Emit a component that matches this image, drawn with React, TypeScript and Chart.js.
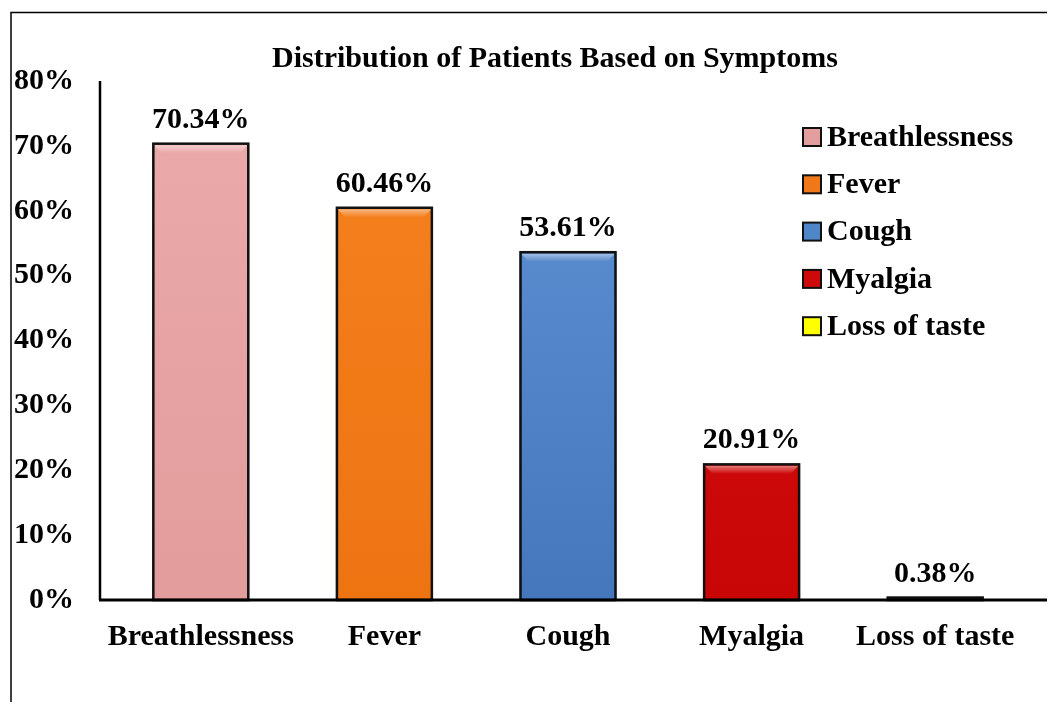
import React, { useEffect, useRef } from "react";
import { Chart, registerables } from "chart.js";

Chart.register(...registerables);

const categories = ["Breathlessness", "Fever", "Cough", "Myalgia", "Loss of taste"];
const values = [70.34, 60.46, 53.61, 20.91, 0.38];
const barColorsTop = ["#EBAAAA", "#F5821E", "#5F94D6", "#D81010", "#FFFF40"];
const barColorsBottom = ["#E29C9C", "#EE7412", "#4577BC", "#C80606", "#F2F200"];
const legendColors = ["#E39E9E", "#F07818", "#4F86C8", "#CC0A0A", "#FFFF00"];
const yMin = 0;
const yMax = 80;
const yStep = 10;
const chartTitle = "Distribution of Patients Based on Symptoms";

const FONT = "'Liberation Serif', 'Times New Roman', serif";
const AXIS_X = 92;

const decorPlugin = {
  id: "decor",
  beforeDraw(chart: any) {
    const { ctx, width, height } = chart;
    ctx.save();
    ctx.fillStyle = "#fff";
    ctx.fillRect(0, 0, width, height);
    ctx.strokeStyle = "#000";
    ctx.lineWidth = 1.5;
    ctx.beginPath();
    ctx.moveTo(3, height + 5);
    ctx.lineTo(3, 4.5);
    ctx.lineTo(width + 5, 4.5);
    ctx.stroke();
    ctx.restore();
  },
  afterDatasetsDraw(chart: any) {
    const { ctx, chartArea, width } = chart;
    const meta = chart.getDatasetMeta(0);
    ctx.save();
    meta.data.forEach((el: any) => {
      const w = el.width;
      const h = chartArea.bottom - el.y;
      const x0 = el.x - w / 2;
      const x1 = el.x + w / 2;
      // bevel highlight at top of bars
      if (h > 12) {
        const y0 = el.y + 1.5;
        const g = ctx.createLinearGradient(0, y0, 0, y0 + 8);
        g.addColorStop(0, "rgba(255,255,255,0.45)");
        g.addColorStop(1, "rgba(255,255,255,0)");
        ctx.fillStyle = g;
        ctx.beginPath();
        ctx.moveTo(x0 + 1.5, y0);
        ctx.lineTo(x1 - 1.5, y0);
        ctx.lineTo(x1 - 9.5, y0 + 8);
        ctx.lineTo(x0 + 9.5, y0 + 8);
        ctx.closePath();
        ctx.fill();
      }
      // outline
      ctx.strokeStyle = "#111";
      ctx.lineWidth = 2.5;
      ctx.strokeRect(x0 + 1, el.y, w - 2, Math.max(h, 1.5));
    });
    // axes lines
    ctx.strokeStyle = "#000";
    ctx.lineWidth = 2.5;
    ctx.beginPath();
    ctx.moveTo(AXIS_X, chartArea.top);
    ctx.lineTo(AXIS_X, chartArea.bottom);
    ctx.stroke();
    ctx.lineWidth = 3;
    ctx.beginPath();
    ctx.moveTo(AXIS_X - 1, chartArea.bottom);
    ctx.lineTo(width, chartArea.bottom);
    ctx.stroke();
    // data labels
    ctx.fillStyle = "#000";
    ctx.font = `bold 30px ${FONT}`;
    ctx.textAlign = "center";
    ctx.textBaseline = "alphabetic";
    meta.data.forEach((el: any, i: number) => {
      ctx.fillText(values[i].toFixed(2) + "%", el.x, el.y - 16);
    });
    // title
    ctx.font = `bold 30px ${FONT}`;
    ctx.textBaseline = "middle";
    ctx.fillText(chartTitle, 547, 51);
    // legend
    ctx.font = `bold 30px ${FONT}`;
    ctx.textAlign = "left";
    categories.forEach((c, i) => {
      const cy = 129 + i * 47.3;
      ctx.fillStyle = legendColors[i];
      ctx.fillRect(795, cy - 9, 18, 18);
      ctx.strokeStyle = "#111";
      ctx.lineWidth = 2;
      ctx.strokeRect(795, cy - 9, 18, 18);
      ctx.fillStyle = "#000";
      ctx.fillText(c, 819, cy + 1);
    });
    ctx.restore();
  },
};

export default function App() {
  const ref = useRef<HTMLCanvasElement>(null);
  useEffect(() => {
    if (!ref.current) return;
    const chart = new Chart(ref.current, {
      type: "bar",
      data: {
        labels: categories,
        datasets: [
          {
            data: values,
            backgroundColor: (ctx: any) => {
              const i = ctx.dataIndex;
              const area = ctx.chart.chartArea;
              if (!area) return legendColors[i];
              const g = ctx.chart.ctx.createLinearGradient(0, area.top, 0, area.bottom);
              g.addColorStop(0, barColorsTop[i]);
              g.addColorStop(1, barColorsBottom[i]);
              return g;
            },
            borderColor: "#111",
            borderWidth: 0,
            barPercentage: 0.528,
            categoryPercentage: 1,
          },
        ],
      },
      options: {
        responsive: false,
        animation: false,
        layout: { padding: { left: 0, top: 73, right: 28, bottom: 0 } },
        plugins: {
          legend: { display: false },
          title: { display: false },
          tooltip: { enabled: false },
        },
        scales: {
          x: {
            type: "category",
            offset: true,
            grid: { display: false, drawTicks: false },
            border: { display: false },
            ticks: {
              color: "#000",
              font: { family: FONT, size: 30, weight: "bold" },
              padding: 19,
              maxRotation: 0,
              autoSkip: false,
            },
            afterFit: (s: any) => {
              s.height = 102;
            },
          },
          y: {
            min: yMin,
            max: yMax,
            grid: { display: false, drawTicks: false },
            border: { display: false },
            ticks: {
              stepSize: yStep,
              color: "#000",
              font: { family: FONT, size: 30, weight: "bold" },
              padding: 35,
              callback: (v: any) => v + "%",
            },
            afterFit: (s: any) => {
              s.width = 101;
            },
          },
        },
      },
      plugins: [decorPlugin],
    });
    return () => chart.destroy();
  }, []);
  return (
    <canvas
      ref={ref}
      width={1047}
      height={694}
      style={{ display: "block", width: 1047, height: 694 }}
    />
  );
}
